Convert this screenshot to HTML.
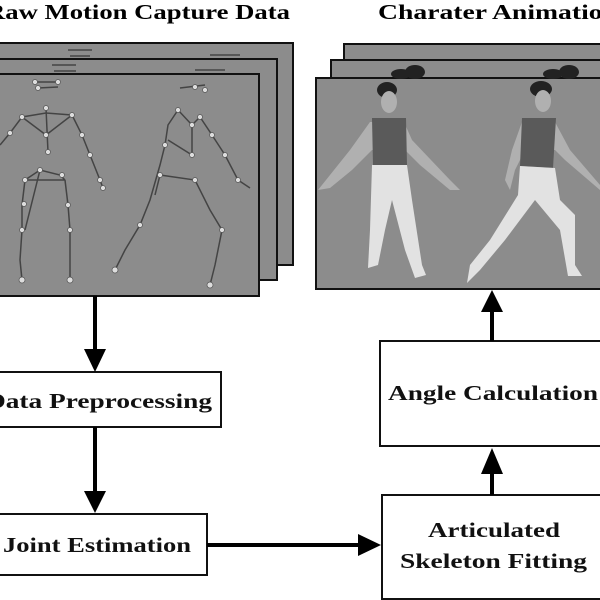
<!DOCTYPE html>
<html><head><style>html,body{margin:0;padding:0;background:#fff}svg{display:block}
svg text{font-family:"Liberation Serif","Times New Roman",Times,"Noto Serif CJK SC",serif;font-weight:700}</style></head>
<body>
<svg width="600" height="600" viewBox="0 0 600 600" xmlns="http://www.w3.org/2000/svg">
<rect width="600" height="600" fill="#fff"/>
<text x="-14" y="19" font-size="21" textLength="304" lengthAdjust="spacingAndGlyphs">Raw Motion Capture  Data</text>
<text x="378" y="19" font-size="21" textLength="240" lengthAdjust="spacingAndGlyphs">Charater Animation</text>
<g stroke="#111" stroke-width="2" fill="#8c8c8c">
<rect x="-5" y="43" width="298" height="222"/>
<rect x="-5" y="59" width="282" height="221"/>
<rect x="-5" y="74" width="264" height="222"/>
</g>
<g stroke="#444" stroke-width="1.5" fill="none">
<path d="M68 50 L92 50 M70 56 L90 56 M52 65 L76 65 M54 71 L76 71 M210 55 L240 55 M195 70 L225 70 M180 88 L205 85"/>
<path d="M35 82 L58 82 M38 88 L58 87"/>
<path d="M22 117 L46 113 L72 115 M46 108 L48 152 M22 117 L10 133 L0 145 M72 115 L82 135 L90 155 L100 180 L103 188 M22 117 L46 135 L72 115"/>
<path d="M25 180 L40 170 L60 175 L65 180 M25 180 L22 205 L22 230 L20 260 L22 280 M65 180 L68 205 L70 230 L70 260 L70 280 M40 170 L25 230 M25 180 L65 180"/>
<path d="M178 110 L168 125 L165 145 L160 165 L150 200 L140 225 L125 250 L115 270 M178 110 L192 125 L192 155 L168 140 M192 125 L200 117 L212 135 L225 155 L238 180 L250 188 M160 175 L195 180 L210 210 L222 230 L215 265 L210 285 M160 175 L155 195"/>
</g>
<g fill="#ddd" stroke="#555" stroke-width="0.7">
<circle cx="46" cy="108" r="2.5"/><circle cx="22" cy="117" r="2.5"/><circle cx="72" cy="115" r="2.5"/><circle cx="46" cy="135" r="2.5"/><circle cx="48" cy="152" r="2.5"/><circle cx="10" cy="133" r="2.5"/><circle cx="82" cy="135" r="2.5"/><circle cx="90" cy="155" r="2.5"/><circle cx="100" cy="180" r="2.5"/><circle cx="103" cy="188" r="2.5"/>
<circle cx="25" cy="180" r="2.5"/><circle cx="40" cy="170" r="2.5"/><circle cx="62" cy="175" r="2.5"/><circle cx="22" cy="230" r="2.5"/><circle cx="70" cy="230" r="2.5"/><circle cx="22" cy="280" r="3"/><circle cx="70" cy="280" r="3"/><circle cx="24" cy="204" r="2.5"/><circle cx="68" cy="205" r="2.5"/>
<circle cx="178" cy="110" r="2.5"/><circle cx="192" cy="125" r="2.5"/><circle cx="192" cy="155" r="2.5"/><circle cx="200" cy="117" r="2.5"/><circle cx="212" cy="135" r="2.5"/><circle cx="225" cy="155" r="2.5"/><circle cx="238" cy="180" r="2.5"/><circle cx="165" cy="145" r="2.5"/><circle cx="160" cy="175" r="2.5"/><circle cx="195" cy="180" r="2.5"/><circle cx="222" cy="230" r="2.5"/><circle cx="210" cy="285" r="3"/><circle cx="140" cy="225" r="2.5"/><circle cx="115" cy="270" r="3"/><circle cx="195" cy="87" r="2.5"/><circle cx="205" cy="90" r="2.5"/>
<circle cx="35" cy="82" r="2.5"/><circle cx="58" cy="82" r="2.5"/><circle cx="38" cy="88" r="2.5"/>
</g>
<g stroke="#111" stroke-width="2" fill="#8c8c8c">
<rect x="344" y="44" width="270" height="222"/>
<rect x="331" y="60" width="280" height="222"/>
<rect x="316" y="78" width="290" height="211"/>
</g>
<g fill="#222"><ellipse cx="415" cy="72" rx="10" ry="7"/><ellipse cx="569" cy="72" rx="10" ry="7"/><ellipse cx="401" cy="74" rx="10" ry="5"/><ellipse cx="553" cy="74" rx="10" ry="5"/>
<ellipse cx="387" cy="90" rx="10" ry="8"/><ellipse cx="541" cy="89" rx="11" ry="8"/></g>
<g fill="#b0b0b0">
<ellipse cx="389" cy="102" rx="8" ry="11"/><ellipse cx="543" cy="101" rx="8" ry="11"/>
<path d="M370 122 L404 122 L412 140 L450 180 L460 190 L450 190 L420 165 L405 150 L372 150 L352 170 L330 188 L318 190 L330 175 L350 150 Z"/>
<path d="M522 122 L555 122 L570 150 L600 185 L600 190 L565 160 L555 150 L525 150 L515 170 L510 190 L505 180 L512 150 Z"/>
</g>
<g fill="#5a5a5a"><path d="M372 118 L406 118 L407 165 L373 165 Z"/><path d="M522 118 L556 118 L553 168 L520 166 Z"/></g>
<g fill="#e2e2e2">
<path d="M372 165 L407 165 L412 200 L422 265 L426 275 L415 278 L405 250 L392 200 L385 230 L378 265 L368 268 L370 230 Z"/>
<path d="M520 166 L555 168 L560 200 L575 215 L575 265 L582 276 L568 276 L560 230 L535 200 L505 240 L480 270 L467 283 L470 265 L490 240 L518 195 Z"/>
</g>
<g stroke="#111" stroke-width="2" fill="#fff">
<rect x="-5" y="372" width="226" height="55"/>
<rect x="-5" y="514" width="212" height="61"/>
<rect x="380" y="341" width="230" height="105"/>
<rect x="382" y="495" width="230" height="104"/>
</g>
<g font-size="21" fill="#111">
<text x="-14" y="408" textLength="226" lengthAdjust="spacingAndGlyphs">Data Preprocessing</text>
<text x="3" y="552" textLength="188" lengthAdjust="spacingAndGlyphs">Joint Estimation</text>
<text x="388" y="400" textLength="210" lengthAdjust="spacingAndGlyphs">Angle Calculation</text>
<text x="428" y="537" textLength="132" lengthAdjust="spacingAndGlyphs">Articulated</text>
<text x="400" y="568" textLength="187" lengthAdjust="spacingAndGlyphs">Skeleton Fitting</text>
</g>
<g stroke="#000" stroke-width="4">
<line x1="95" y1="296" x2="95" y2="352"/>
<line x1="95" y1="427" x2="95" y2="494"/>
<line x1="207" y1="545" x2="362" y2="545"/>
<line x1="492" y1="495" x2="492" y2="470"/>
<line x1="492" y1="341" x2="492" y2="308"/>
</g>
<g fill="#000">
<path d="M84 349 L106 349 L95 372 Z"/>
<path d="M84 491 L106 491 L95 513 Z"/>
<path d="M358 534 L358 556 L381 545 Z"/>
<path d="M481 474 L503 474 L492 448 Z"/>
<path d="M481 312 L503 312 L492 290 Z"/>
</g>
</svg>
</body></html>
